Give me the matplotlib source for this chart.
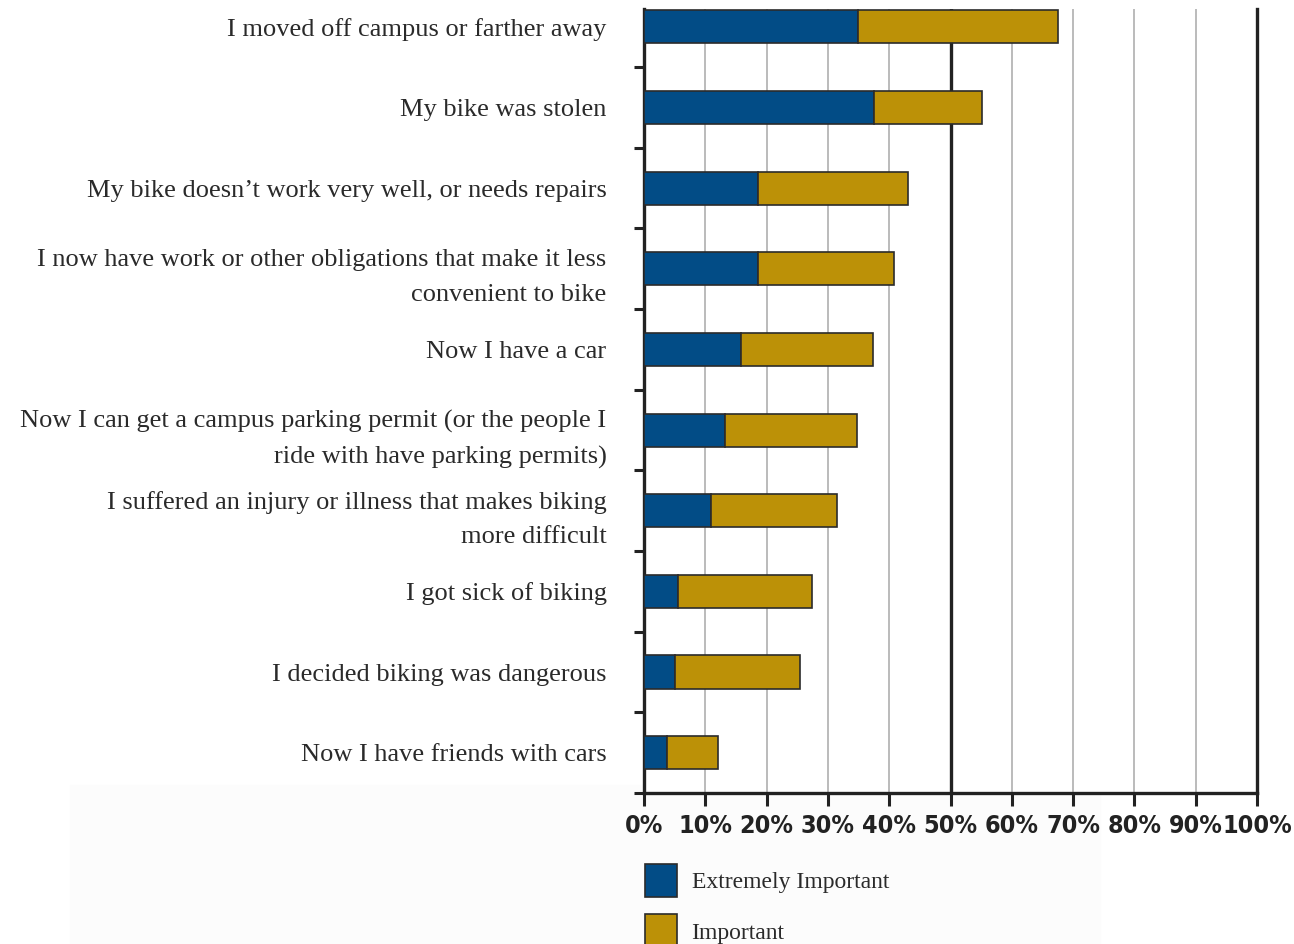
import numpy as np
import matplotlib.pyplot as plt
from matplotlib.patches import Patch, Rectangle

# reasons for biking less, top to bottom
reasons = [
    "I moved off campus or farther away",
    "My bike was stolen",
    "My bike doesn\u2019t work very well, or needs repairs",
    "I now have work or other obligations that make it less\nconvenient to bike",
    "Now I have a car",
    "Now I can get a campus parking permit (or the people I\nride with have parking permits)",
    "I suffered an injury or illness that makes biking\nmore difficult",
    "I got sick of biking",
    "I decided biking was dangerous",
    "Now I have friends with cars",
]
extremely = [34.9, 37.5, 18.6, 18.6, 15.8, 13.2, 10.9, 5.5, 5.1, 3.8]
important = [32.6, 17.6, 24.5, 22.2, 21.6, 21.5, 20.6, 21.9, 20.3, 8.3]
xticks = [0, 10, 20, 30, 40, 50, 60, 70, 80, 90, 100]

blue = '#024c86'
gold = '#bc9107'
edge = '#2b2b2b'

fig = plt.figure(figsize=(12.94, 9.44), dpi=100)
fig.add_artist(Rectangle((70 / 1294, 0), 1030 / 1294, 159 / 944,
                         transform=fig.transFigure, color='#fcfcfc', zorder=0))
ax = fig.add_axes([644 / 1294, 151 / 944, 613 / 1294, 784 / 944])

y = np.arange(len(reasons))
ax.barh(y, extremely, height=0.41, color=blue, edgecolor=edge, linewidth=1.2, zorder=3)
ax.barh(y, important, left=extremely, height=0.41, color=gold, edgecolor=edge,
        linewidth=1.2, zorder=3)

ax.set_xlim(0, 100)
ax.set_ylim(9.5, -0.22)

# grid
for v in xticks[1:-1]:
    if v == 50:
        ax.axvline(v, color='#222222', lw=2.4, zorder=2)
    else:
        ax.axvline(v, color='#b5b5b5', lw=1.3, zorder=1)

ax.spines['top'].set_visible(False)
for s in ['left', 'bottom', 'right']:
    ax.spines[s].set_linewidth(2.4)
    ax.spines[s].set_color('#222222')

ax.set_xticks(xticks)
ax.set_xticklabels([f"{v}%" for v in xticks], fontfamily='DejaVu Sans', fontstretch='condensed',
                   fontsize=18, fontweight='bold', color='#222222')
ax.tick_params(axis='x', direction='out', length=9, width=2.2, color='#222222', pad=6)

ax.set_yticks(y)
ax.set_yticklabels(reasons, fontfamily='Liberation Serif', fontsize=19, color='#2a2a2a')
for lab in ax.get_yticklabels():
    lab.set_linespacing(1.75)
ax.tick_params(axis='y', which='major', length=0, pad=27)
ax.set_yticks(np.arange(0.5, 10, 1), minor=True)
ax.tick_params(axis='y', which='minor', direction='out', length=7, width=2.2, color='#222222')

handles = [Patch(facecolor=blue, edgecolor=edge, linewidth=1.2),
           Patch(facecolor=gold, edgecolor=edge, linewidth=1.2)]
leg = fig.legend(handles, ["Extremely Important", "Important"], loc='upper left',
                 bbox_to_anchor=(645 / 1294, 1 - 864 / 944), frameon=False,
                 prop={'family': 'Liberation Serif', 'size': 17},
                 handlelength=1.37, handleheight=1.8, handletextpad=0.6,
                 labelspacing=0.72, borderaxespad=0, borderpad=0)
for t in leg.get_texts():
    t.set_color('#2a2a2a')

fig.savefig('out.png', dpi=100)
